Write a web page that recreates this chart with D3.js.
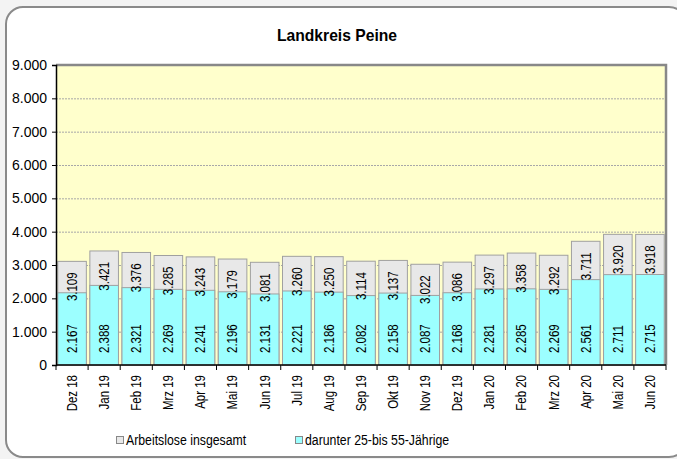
<!DOCTYPE html>
<html><head><meta charset="utf-8">
<script src="https://cdn.jsdelivr.net/npm/d3@7"></script>
<style>
html,body{margin:0;padding:0;background:#f3f3f3;}
svg{display:block;font-family:Arial,"Liberation Sans",sans-serif;}
</style></head>
<body>
<svg id="c" width="677" height="459"></svg>
<script>
const categories = ["Dez 18","Jan 19","Feb 19","Mrz 19","Apr 19","Mai 19","Jun 19","Jul 19","Aug 19","Sep 19","Okt 19","Nov 19","Dez 19","Jan 20","Feb 20","Mrz 20","Apr 20","Mai 20","Jun 20"];
const totalValues = [3109,3421,3376,3285,3243,3179,3081,3260,3250,3114,3137,3022,3086,3297,3358,3292,3711,3920,3918];
const ageValues = [2167,2388,2321,2269,2241,2196,2131,2221,2186,2082,2158,2087,2168,2281,2285,2269,2561,2711,2715];
const yTicks = [0,1000,2000,3000,4000,5000,6000,7000,8000,9000];
const seriesNames = ["Arbeitslose insgesamt","darunter 25-bis 55-Jährige"];
const title = "Landkreis Peine";

const NARROW = 0.82;
const fmt = v => d3.format(",")(v).replace(/,/g,".");
const svg = d3.select("#c");

// outer frame
svg.append("rect").attr("x",6).attr("y",7).attr("width",680).attr("height",450)
  .attr("rx",17).attr("fill","#fff").attr("stroke","#8a8a8a").attr("stroke-width",2);

const L=56,R=666,T=65,B=365;
const x = d3.scaleBand().domain(categories).range([L,R]).paddingInner(0.11).paddingOuter(0.055);
const y = d3.scaleLinear().domain([0,9000]).range([B,T]);

svg.append("text").attr("transform","translate(337,41) scale(0.95,1)").attr("text-anchor","middle")
  .attr("font-weight","bold").attr("font-size",16.5).text(title);

// plot bg
svg.append("rect").attr("x",L).attr("y",T).attr("width",R-L).attr("height",B-T).attr("fill","#ffffcc");
// grid
svg.append("g").selectAll("line").data(yTicks.filter(d=>d>0&&d<9000)).join("line")
  .attr("x1",L).attr("x2",R).attr("y1",d=>y(d)+0.5).attr("y2",d=>y(d)+0.5)
  .attr("stroke","#a8a8a8").attr("stroke-dasharray","2,1").attr("stroke-width",1);
// plot border top/right
svg.append("path").attr("d",`M${L},${T} H${R} V${B}`).attr("fill","none").attr("stroke","#888").attr("stroke-width",2.5);

// bars
const g = svg.append("g");
g.selectAll(".tot").data(categories).join("rect")
  .attr("x",d=>x(d)).attr("width",x.bandwidth())
  .attr("y",(d,i)=>y(totalValues[i])).attr("height",(d,i)=>B-y(totalValues[i]))
  .attr("fill","#e8e8e8").attr("stroke","#a0a0a0").attr("stroke-width",1);
g.selectAll(".age").data(categories).join("rect")
  .attr("x",d=>x(d)).attr("width",x.bandwidth())
  .attr("y",(d,i)=>y(ageValues[i])).attr("height",(d,i)=>B-y(ageValues[i]))
  .attr("fill","#9cffff").attr("stroke","#a0a0a0").attr("stroke-width",1);

// value labels
const lab = svg.append("g").attr("font-size",14).attr("fill","#000");
categories.forEach((c,i)=>{
  const cx = x(c)+x.bandwidth()/2;
  const yt = y(totalValues[i]) + 11;
  lab.append("text").attr("transform",`translate(${cx},${yt}) rotate(-90) scale(${NARROW},1)`)
    .attr("text-anchor","end").attr("dy","0.35em").text(fmt(totalValues[i]));
  lab.append("text").attr("transform",`translate(${cx},${B-12}) rotate(-90) scale(${NARROW},1)`)
    .attr("text-anchor","start").attr("dy","0.35em").text(fmt(ageValues[i]));
});

// y axis
const ya = svg.append("g").attr("transform",`translate(${L},0)`)
  .call(d3.axisLeft(y).tickValues(yTicks).tickFormat(fmt).tickSize(4).tickPadding(5));
ya.select(".domain").attr("stroke","#000").attr("stroke-width",1.5);
ya.selectAll("text").attr("font-size",14).attr("font-family","Arial,'Liberation Sans',sans-serif");

// x axis
const xa = svg.append("g").attr("transform",`translate(0,${B})`);
xa.append("line").attr("x1",L).attr("x2",R).attr("stroke","#000").attr("stroke-width",1.5);
const bounds = categories.map(c=>x(c)-x.step()*x.paddingInner()/2).concat([R]);
xa.selectAll(".tk").data(bounds).join("line").attr("x1",d=>d).attr("x2",d=>d).attr("y1",0).attr("y2",5).attr("stroke","#000");
xa.selectAll(".xl").data(categories).join("text")
  .attr("transform",d=>`translate(${x(d)+x.bandwidth()/2},10) rotate(-90) scale(${NARROW},1)`)
  .attr("text-anchor","end").attr("dy","0.35em").attr("font-size",14).text(d=>d);

// legend
const leg = svg.append("g").attr("font-size",15);
[[116,"#e8e8e8",seriesNames[0]],[295,"#9cffff",seriesNames[1]]].forEach(([lx,col,name])=>{
  leg.append("rect").attr("x",lx+0.5).attr("y",436.5).attr("width",7).attr("height",7).attr("fill",col).attr("stroke","#888");
  leg.append("text").attr("transform",`translate(${lx+10},445) scale(${NARROW},1)`).text(name);
});
</script>
</body></html>
